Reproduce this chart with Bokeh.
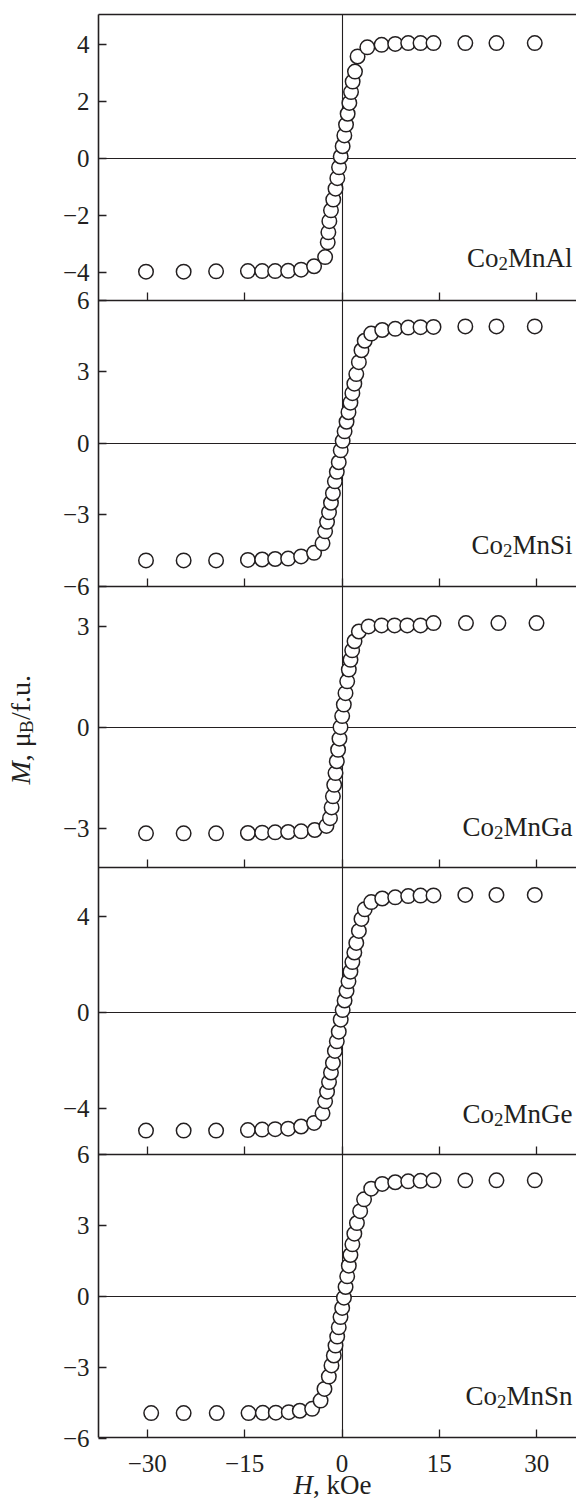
import math
from bokeh.plotting import figure
from bokeh.models import Range1d, LinearAxis, FixedTicker, Label, ColumnDataSource
from bokeh.embed import file_html
from bokeh.resources import INLINE

# ---------------- data (H in kOe, M in mu_B/f.u.) ----------------
H_al = [-30.2, -24.4, -19.4, -14.5, -12.3, -10.3, -8.3, -6.3, -4.3, -2.6, -2.2, -2.1, -1.95, -1.7,
        -1.35, -1.0, -0.72, -0.46, -0.2, 0.1, 0.36, 0.62, 0.87, 1.13, 1.39, 1.64, 2.0, 2.4, 3.9,
        6.1, 8.2, 10.2, 12.1, 14.1, 19.0, 23.8, 29.7]
M_al = [-3.97, -3.97, -3.96, -3.95, -3.95, -3.95, -3.94, -3.9, -3.78, -3.46, -2.94, -2.59, -2.2,
        -1.82, -1.44, -1.06, -0.69, -0.31, 0.07, 0.43, 0.81, 1.19, 1.57, 1.95, 2.33, 2.7, 3.05,
        3.58, 3.9, 3.99, 4.02, 4.05, 4.05, 4.05, 4.05, 4.05, 4.05]

H_si = [-30.2, -24.4, -19.4, -14.5, -12.3, -10.3, -8.3, -6.3, -4.3, -3.0, -2.6, -2.3, -2.0, -1.7,
        -1.4, -1.1, -0.8, -0.5, -0.2, 0.1, 0.4, 0.7, 1.0, 1.3, 1.6, 1.9, 2.2, 2.6, 3.0, 3.5, 4.5,
        6.2, 8.2, 10.2, 12.1, 14.1, 19.0, 23.8, 29.7]
M_si = [-4.92, -4.92, -4.92, -4.9, -4.88, -4.86, -4.84, -4.75, -4.6, -4.2, -3.7, -3.3, -2.9, -2.5,
        -2.1, -1.6, -1.2, -0.8, -0.3, 0.1, 0.5, 0.9, 1.3, 1.7, 2.1, 2.5, 2.9, 3.4, 3.9, 4.3, 4.6,
        4.75, 4.8, 4.85, 4.87, 4.88, 4.9, 4.9, 4.9]

H_ga = [-30.2, -24.4, -19.4, -14.5, -12.3, -10.3, -8.3, -6.3, -4.2, -2.4, -1.85, -1.6, -1.4,
        -1.2, -1.0, -0.8, -0.6, -0.39, -0.23, 0.03, 0.28, 0.54, 0.8, 1.05, 1.31, 1.57, 1.93, 2.6,
        4.1, 6.1, 8.1, 10.05, 12.1, 14.1, 19.1, 24.1, 29.97]
M_ga = [-3.15, -3.15, -3.15, -3.14, -3.13, -3.12, -3.11, -3.09, -3.05, -2.93, -2.7, -2.38, -2.05,
        -1.71, -1.36, -1.01, -0.67, -0.34, 0.0, 0.33, 0.67, 1.01, 1.36, 1.71, 2.0, 2.28, 2.55,
        2.84, 2.99, 3.02, 3.02, 3.02, 3.02, 3.09, 3.09, 3.09, 3.09]

H_ge = [-30.2, -24.4, -19.4, -14.5, -12.3, -10.3, -8.3, -6.3, -4.3, -3.0, -2.6, -2.3, -2.0, -1.7,
        -1.4, -1.1, -0.8, -0.5, -0.2, 0.1, 0.4, 0.7, 1.0, 1.3, 1.6, 1.9, 2.2, 2.6, 3.0, 3.5, 4.5,
        6.2, 8.2, 10.2, 12.1, 14.1, 19.0, 23.8, 29.7]
M_ge = [-4.92, -4.92, -4.92, -4.9, -4.88, -4.86, -4.84, -4.75, -4.6, -4.2, -3.7, -3.3, -2.9, -2.5,
        -2.1, -1.6, -1.2, -0.8, -0.3, 0.1, 0.5, 0.9, 1.3, 1.7, 2.1, 2.5, 2.9, 3.4, 3.9, 4.3, 4.6,
        4.75, 4.8, 4.85, 4.87, 4.88, 4.9, 4.9, 4.9]

H_sn = [-29.4, -24.4, -19.3, -14.4, -12.2, -10.2, -8.2, -6.5, -4.6, -3.3, -2.7, -2.03, -1.62,
        -1.26, -1.0, -0.74, -0.5, -0.23, 0.03, 0.3, 0.55, 0.8, 1.05, 1.3, 1.6, 1.9, 2.3, 2.8,
        3.4, 4.5, 6.2, 8.2, 10.2, 12.1, 14.1, 19.0, 23.8, 29.7]
M_sn = [-4.92, -4.92, -4.92, -4.92, -4.91, -4.9, -4.88, -4.82, -4.74, -4.39, -3.9, -3.38,
        -2.91, -2.49, -2.07, -1.69, -1.3, -0.87, -0.48, -0.05, 0.4, 0.85, 1.3, 1.75, 2.2, 2.65,
        3.1, 3.6, 4.1, 4.55, 4.75, 4.82, 4.86, 4.88, 4.9, 4.9, 4.9, 4.9]

compounds = ["Al", "Si", "Ga", "Ge", "Sn"]
y_ticks = [[4, 2, 0, -2, -4], [6, 3, 0, -3, -6], [3, 0, -3], [4, 0, -4], [6, 3, 0, -3, -6]]
x_ticks = [-30, -15, 0, 15, 30]
H_all = [H_al, H_si, H_ga, H_ge, H_sn]
M_all = [M_al, M_si, M_ga, M_ge, M_sn]

# ---------------- layout (page pixels) ----------------
FONT = "Liberation Serif"
INK = "#231f20"
FIG_W, FIG_H = 576, 1502
PAGE_B = FIG_H
LEFT, TOP, BOTTOM = 98, 14, 1437
ZERO_X, PXK = 341.5, 6.49
bounds = [14, 300, 586, 867, 1154, 1437]      # panel edges (page y)
zeros = [158, 442.7, 726.7, 1012, 1296]       # page y of M = 0
scales = [28.5, 23.83, 33.7, 24.0, 23.7]      # px per mu_B
label_y = [257, 544, 826, 1113, 1395]         # page y for compound-label anchors


def kx(page_x):
    return (page_x - ZERO_X) / PXK


def prim(page_y):
    return PAGE_B - page_y


XL = kx(LEFT)
XR = kx(FIG_W)

p = figure(width=FIG_W, height=FIG_H, output_backend="svg", toolbar_location=None,
           x_range=Range1d(kx(0), XR), y_range=Range1d(0, FIG_H),
           min_border=0, x_axis_type=None, y_axis_type=None,
           background_fill_color="white", border_fill_color="white")
p.outline_line_color = None
p.xgrid.visible = False
p.ygrid.visible = False


def style_axis(ax, lw=1.6, labels=True, size="25px"):
    ax.axis_line_color = INK
    ax.axis_line_width = lw
    ax.major_tick_line_color = INK
    ax.major_tick_line_width = 1.3
    ax.major_tick_in = 8
    ax.major_tick_out = 0
    ax.minor_tick_line_color = None
    ax.major_label_text_font = FONT
    ax.major_label_text_font_size = size
    ax.major_label_text_color = INK if labels else None


def fmt(t):
    return ("\u2212" + str(-t)) if t < 0 else str(t)


# zero lines (drawn beneath the points)
vz = LinearAxis(ticker=FixedTicker(ticks=[]), fixed_location=0,
                bounds=(prim(BOTTOM), prim(TOP)), level="underlay")
style_axis(vz, lw=1.1, labels=False)
p.add_layout(vz, "left")

# left axis carrying all panel ticks
tpos, tlab = [], {}
for k, ticks in enumerate(y_ticks):
    for t in ticks:
        pos = round(prim(zeros[k] - t * scales[k]), 3)
        tpos.append(pos)
        tlab[pos] = fmt(t)
yax = LinearAxis(ticker=FixedTicker(ticks=tpos), major_label_overrides=tlab,
                 fixed_location=XL, bounds=(prim(BOTTOM), prim(TOP)))
style_axis(yax)
yax.major_label_standoff = 9
p.add_layout(yax, "left")

# bottom axis with labels
xax = LinearAxis(ticker=FixedTicker(ticks=x_ticks),
                 major_label_overrides={t: fmt(t) for t in x_ticks},
                 fixed_location=prim(BOTTOM), bounds=(XL, XR))
style_axis(xax)
xax.major_label_standoff = 17
p.add_layout(xax, "below")

# interior panel boundaries with inward ticks, and the top edge
for b in bounds[1:-1]:
    ax = LinearAxis(ticker=FixedTicker(ticks=x_ticks), fixed_location=prim(b), bounds=(XL, XR))
    style_axis(ax, labels=False)
    p.add_layout(ax, "below")
top_ax = LinearAxis(ticker=FixedTicker(ticks=[]), fixed_location=prim(TOP), bounds=(XL, XR))
style_axis(top_ax, labels=False)
p.add_layout(top_ax, "above")

for k in range(5):
    rn = "p%d" % k
    p.extra_y_ranges[rn] = Range1d((zeros[k] - PAGE_B) / scales[k], zeros[k] / scales[k])
    hz = LinearAxis(ticker=FixedTicker(ticks=[]), y_range_name=rn, fixed_location=0,
                    bounds=(XL, XR), level="underlay")
    style_axis(hz, lw=1.1, labels=False)
    p.add_layout(hz, "below")

    src = ColumnDataSource(dict(H=H_all[k], M=M_all[k]))
    p.scatter("H", "M", source=src, y_range_name=rn, marker="circle", size=14.5,
              fill_color="white", line_color=INK, line_width=1.5)

    # compound label "Co2MnX", right aligned
    F = 27
    yb = prim(label_y[k])
    xr = kx(572)
    w_tail = {"Al": 0.889 + 0.5 + 0.722 + 0.278, "Si": 0.889 + 0.5 + 0.556 + 0.278,
              "Ga": 0.889 + 0.5 + 0.722 + 0.444, "Ge": 0.889 + 0.5 + 0.722 + 0.444,
              "Sn": 0.889 + 0.5 + 0.556 + 0.5}[compounds[k]] * F
    w_sub = 0.5 * 0.7 * F
    common = dict(text_font=FONT, text_color=INK, text_align="right", text_baseline="alphabetic")
    p.add_layout(Label(x=xr, y=yb, text="Mn" + compounds[k], text_font_size="%dpx" % F, **common))
    p.add_layout(Label(x=xr, y=yb, x_offset=-w_tail, y_offset=-0.22 * F, text="2",
                       text_font_size="%.1fpx" % (0.7 * F), **common))
    p.add_layout(Label(x=xr, y=yb, x_offset=-w_tail - w_sub, text="Co",
                       text_font_size="%dpx" % F, **common))

# y axis title: M, mu_B/f.u. (rotated)
FY = 28
bx = kx(20)
ys = prim(784)
rot = dict(angle=math.pi / 2, text_font=FONT, text_color=INK,
           text_align="left", text_baseline="alphabetic")
p.add_layout(Label(x=bx, y=ys, text="M", text_font_style="italic", text_font_size="%dpx" % FY, **rot))
ys += 0.833 * FY
p.add_layout(Label(x=bx, y=ys, text=", \u03bc", text_font_size="%dpx" % FY, **rot))
ys += 1.0 * FY
p.add_layout(Label(x=bx, y=ys, x_offset=0.22 * FY, text="B", text_font_size="%.1fpx" % (0.7 * FY), **rot))
ys += 0.667 * 0.7 * FY
p.add_layout(Label(x=bx, y=ys, text="/f.u.", text_font_size="%dpx" % FY, **rot))

# x axis title: H, kOe
FX = 27
hor = dict(text_font=FONT, text_color=INK, text_align="left", text_baseline="alphabetic")
p.add_layout(Label(x=kx(293), y=prim(1484), text="H", text_font_style="italic",
                   text_font_size="%dpx" % FX, **hor))
p.add_layout(Label(x=kx(293), y=prim(1484), x_offset=0.722 * FX, text=", kOe",
                   text_font_size="%dpx" % FX, **hor))

open("out.html", "w").write(file_html(p, INLINE))
